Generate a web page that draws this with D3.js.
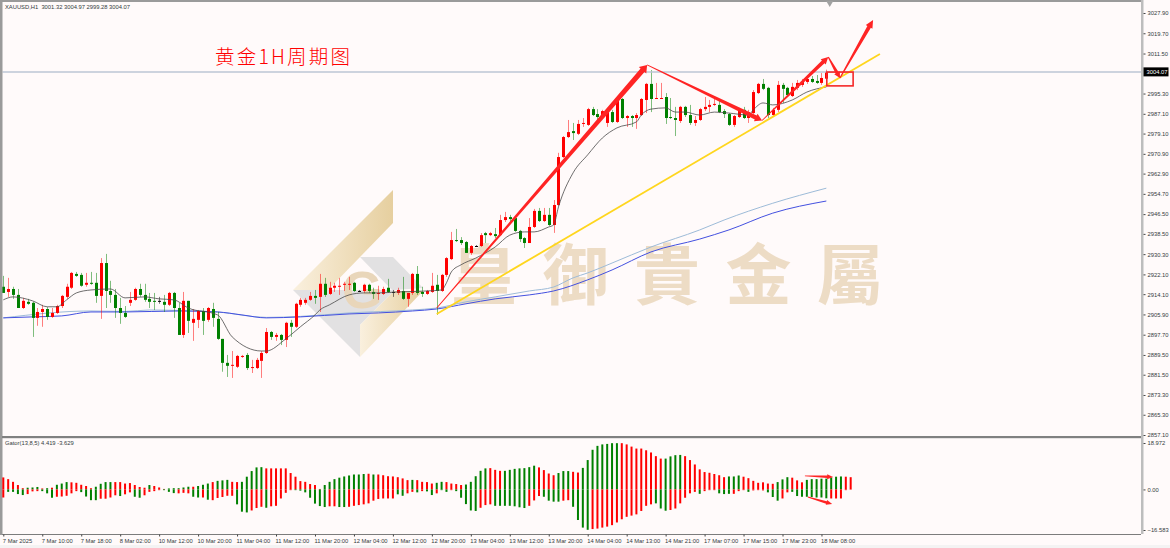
<!DOCTYPE html>
<html>
<head>
<meta charset="utf-8">
<script src="https://cdn.jsdelivr.net/npm/d3@7"></script>
<style>
  html, body { margin: 0; padding: 0; background: #fffafa; }
  svg { display: block; }
  text { font-family: "Liberation Sans", Arial, sans-serif; }
</style>
</head>
<body>
<svg id="chart" width="1170" height="548"></svg>
<script>
// XAUUSD H1 candles
const opens = [2917.1,2915.0,2916.2,2913.8,2908.5,2911.0,2910.6,2904.5,2906.9,2908.1,2904.9,2906.5,2909.3,2913.0,2916.7,2922.3,2921.9,2917.9,2918.7,2918.7,2913.4,2926.7,2915.4,2913.8,2908.5,2906.5,2910.6,2911.8,2916.2,2913.8,2912.2,2911.4,2911.4,2911.0,2909.8,2914.6,2908.5,2897.6,2911.4,2902.5,2903.7,2907.3,2903.7,2908.1,2904.1,2896.0,2886.3,2885.1,2884.7,2888.7,2889.5,2884.2,2884.2,2887.1,2890.3,2898.8,2896.8,2897.6,2895.6,2902.5,2900.9,2909.8,2910.6,2911.8,2913.4,2913.0,2918.3,2914.2,2916.7,2917.1,2917.9,2917.9,2918.7,2915.4,2915.4,2917.9,2915.0,2914.2,2914.2,2916.7,2915.0,2914.6,2915.4,2912.2,2914.6,2922.3,2915.0,2914.2,2915.0,2917.9,2915.4,2921.9,2928.3,2936.0,2936.0,2935.2,2930.8,2933.6,2933.6,2938.8,2938.0,2938.4,2938.0,2944.1,2945.3,2944.9,2939.7,2936.8,2934.8,2941.3,2947.8,2943.7,2946.2,2942.1,2950.2,2969.6,2977.7,2980.1,2979.0,2983.0,2982.6,2989.0,2987.0,2986.6,2983.4,2987.8,2983.8,2993.1,2985.4,2986.2,2985.4,2986.6,2992.7,2999.2,2993.3,2993.3,2993.9,2985.8,2985.4,2984.2,2989.9,2986.6,2983.4,2984.6,2989.0,2989.9,2990.7,2990.7,2988.2,2987.0,2982.6,2985.8,2988.7,2985.4,2987.4,2995.5,2999.2,2997.6,2986.6,2988.7,2998.8,2997.6,2994.3,2997.6,2998.8,3000.0,3001.2,3000.4,2999.6,3001.32];
const closes = [2914.6,2916.2,2913.8,2908.5,2911.4,2910.2,2904.5,2906.9,2908.1,2904.9,2906.5,2909.3,2913.4,2917.1,2922.7,2921.5,2917.5,2918.7,2918.3,2913.4,2926.7,2915.4,2913.8,2908.5,2906.5,2904.9,2911.8,2916.2,2913.8,2911.8,2911.0,2911.0,2911.4,2909.8,2914.6,2908.5,2897.6,2911.4,2903.3,2904.1,2907.3,2903.3,2908.5,2904.5,2896.0,2886.3,2885.1,2885.5,2889.1,2889.1,2884.2,2884.6,2887.5,2890.3,2898.8,2896.8,2897.6,2895.6,2902.5,2900.9,2910.2,2911.8,2911.8,2913.4,2912.6,2918.3,2913.8,2916.7,2917.5,2917.5,2918.3,2918.3,2915.4,2915.4,2917.9,2915.4,2914.2,2914.6,2916.2,2915.0,2915.0,2915.8,2912.2,2914.6,2922.3,2914.6,2914.2,2915.4,2917.5,2915.4,2921.9,2928.7,2936.0,2935.6,2934.8,2930.8,2933.6,2933.6,2938.0,2938.0,2938.8,2937.6,2944.1,2945.3,2944.5,2939.7,2936.4,2934.8,2941.3,2947.8,2943.7,2946.2,2942.1,2950.2,2969.6,2977.7,2979.7,2979.3,2983.0,2983.4,2989.0,2986.6,2985.8,2988.2,2987.8,2983.8,2993.1,2985.4,2986.2,2985.4,2986.6,2993.1,2999.2,2993.1,2993.5,2993.5,2985.4,2985.4,2984.6,2989.9,2986.6,2983.4,2984.6,2989.0,2989.9,2990.7,2991.1,2987.8,2987.0,2982.6,2986.2,2988.7,2985.4,2987.8,2995.9,2999.2,2997.2,2986.6,2988.7,2998.8,2997.2,2994.7,2998.0,2999.6,3000.0,3001.2,3000.0,2999.6,3001.6,3004.07];
const highs = [2921.5,2920.7,2917.1,2916.2,2912.6,2912.2,2911.0,2908.5,2909.8,2908.9,2908.5,2909.8,2913.8,2918.3,2923.1,2923.1,2922.7,2922.7,2923.1,2922.7,2928.7,2930.4,2919.5,2916.2,2912.6,2909.3,2915.0,2916.7,2918.3,2918.3,2914.6,2914.6,2913.0,2913.8,2915.0,2915.0,2910.6,2915.0,2911.4,2908.1,2907.7,2908.5,2908.9,2910.6,2906.9,2896.0,2889.5,2891.1,2889.5,2889.5,2890.3,2887.5,2888.3,2891.1,2900.4,2899.2,2898.4,2898.0,2902.9,2903.7,2910.6,2912.6,2912.6,2915.0,2915.8,2922.3,2920.7,2919.1,2918.7,2920.7,2919.1,2921.1,2919.1,2915.8,2918.3,2918.3,2916.7,2917.5,2917.1,2920.3,2915.8,2916.7,2921.1,2914.6,2922.7,2925.5,2917.1,2915.8,2922.7,2921.9,2922.3,2929.1,2939.3,2940.5,2937.2,2935.6,2934.0,2934.0,2938.8,2939.3,2939.3,2940.9,2946.2,2947.4,2946.2,2944.9,2940.1,2937.2,2944.9,2948.6,2949.0,2949.0,2949.0,2952.2,2971.3,2978.1,2984.6,2983.4,2984.6,2985.4,2989.5,2989.9,2989.0,2988.7,2989.5,2988.7,2993.5,2993.5,2986.6,2986.6,2987.4,2993.5,2999.6,3004.8,2999.6,2999.6,2995.5,2993.5,2989.9,2990.3,2990.3,2990.7,2986.2,2989.5,2993.9,2992.7,2993.5,2993.1,2989.0,2987.4,2986.6,2989.5,2989.9,2988.7,2996.7,2999.6,3001.2,2998.0,2989.5,3000.4,2999.6,2998.0,2999.6,3000.8,3001.2,3002.0,3002.4,3002.8,3003.6,3004.97];
const lows = [2914.6,2913.0,2912.2,2908.5,2908.1,2909.8,2896.8,2901.3,2900.9,2903.7,2904.5,2906.1,2908.5,2912.2,2916.2,2921.1,2917.1,2917.1,2917.9,2910.6,2904.1,2908.5,2910.6,2904.5,2902.1,2904.5,2909.3,2911.4,2913.0,2911.0,2908.5,2907.7,2910.2,2906.9,2909.3,2904.5,2897.6,2896.4,2898.4,2895.2,2900.4,2897.6,2902.9,2900.9,2895.6,2882.7,2880.6,2880.2,2884.2,2888.3,2883.4,2882.2,2883.8,2880.2,2889.9,2895.6,2895.2,2893.5,2892.7,2896.8,2900.4,2909.0,2909.8,2911.4,2910.2,2906.9,2913.0,2913.8,2915.0,2913.8,2915.4,2915.8,2915.0,2915.0,2914.6,2914.6,2912.2,2911.8,2913.8,2914.6,2913.0,2913.8,2911.8,2909.0,2913.8,2913.8,2913.0,2913.8,2914.6,2905.7,2915.0,2921.1,2927.9,2935.2,2934.0,2930.8,2930.0,2933.2,2933.2,2934.8,2937.6,2936.8,2937.6,2943.3,2943.3,2939.3,2935.2,2932.8,2934.8,2940.9,2943.3,2943.3,2941.7,2938.9,2949.8,2969.2,2977.3,2976.5,2978.5,2981.8,2982.2,2986.2,2984.6,2985.4,2981.8,2983.4,2983.4,2985.0,2981.8,2981.8,2981.0,2986.2,2987.4,2987.8,2993.1,2993.1,2983.0,2985.0,2978.1,2983.4,2985.8,2982.6,2982.2,2984.2,2988.2,2987.8,2990.3,2987.4,2985.4,2982.2,2981.8,2985.4,2985.0,2983.4,2987.0,2995.1,2996.7,2985.4,2985.8,2987.8,2991.5,2993.9,2993.9,2996.7,2998.0,2999.2,2999.6,2999.2,2998.8,2999.28];

// Moving averages: sampled as bar index / price
const fastBars = [0,2,6,9,11,13,15,18,22,25,29,32,35,38,44,47,53,54,58,61,64,65,67,71,74,77,81,87,90,91,92,94,97,101,104,107,109,112,113,114,117,120,123,126,130,131,133,136,138,140,143,146,149,153,154,156,158,162,165,169];
const fastMA = [2911.8,2913.0,2911.4,2909.0,2909.0,2911.8,2914.6,2915.8,2916.2,2912.6,2913.0,2912.2,2911.8,2908.5,2905.7,2896.8,2891.1,2891.1,2896.0,2900.9,2905.7,2907.7,2909.8,2913.8,2914.6,2914.6,2915.0,2915.4,2915.8,2918.7,2923.1,2926.0,2928.7,2933.2,2938.0,2939.3,2939.3,2941.3,2942.1,2949.4,2963.2,2970.5,2977.3,2981.4,2983.8,2986.6,2989.0,2989.5,2987.8,2987.8,2986.6,2987.8,2987.4,2986.6,2988.7,2991.5,2990.7,2992.7,2995.9,2998.0];
const blueBars = [0,6,12,18,25,36,44,49,54,61,71,77,84,89,95,101,108,113,120,125,133,143,149,158,169];
const blueMA = [2904.5,2904.9,2905.3,2906.9,2906.9,2907.3,2906.9,2905.7,2904.5,2904.9,2906.1,2906.5,2907.3,2908.1,2910.2,2912.2,2913.8,2915.4,2919.9,2923.9,2931.2,2936.4,2940.1,2946.9,2951.8];
const paleBars = [0,18,25,30,36,44,54,61,71,84,89,95,101,108,113,117,120,125,133,143,148,158,169];
const paleMA = [2904.5,2907.3,2907.1,2907.7,2907.5,2906.9,2904.7,2905.1,2906.5,2907.7,2908.5,2911.0,2913.0,2915.4,2917.0,2920.7,2922.7,2926.7,2933.2,2940.1,2944.1,2950.9,2957.0];

// Gator oscillator, shifted five bars ahead of price
const gatorUpper = [4.9,4.2,3.1,1.8,.5,.7,.8,1.0,.4,.5,.7,1.9,2.4,3.0,2.9,2.7,1.9,1.4,.5,1.1,2.3,3.0,3.0,3.0,3.0,2.4,2.6,1.8,1.0,.7,1.8,1.4,.8,.2,.4,.5,.5,.8,1.1,1.1,1.4,1.9,2.4,3.0,3.5,3.7,3.9,3.1,3.0,3.1,5.2,7.5,9.0,9.1,8.6,8.6,8.6,8.6,8.6,6.7,5.2,3.4,3.1,2.2,1.8,.2,1.8,3.1,4.2,4.8,5.3,5.7,6.1,6.1,6.3,6.4,6.1,6.1,5.8,5.4,5.3,5.0,4.5,3.8,3.9,3.8,3.1,3.0,2.4,2.7,3.1,3.0,2.4,2.2,1.8,2.0,3.1,5.4,7.6,8.6,8.7,8.0,7.6,7.6,8.0,8.4,8.6,8.7,9.1,9.7,9.0,7.9,6.5,5.8,6.7,7.5,7.5,7.2,6.9,8.8,12.0,16.2,17.8,18.4,18.6,18.9,18.9,18.9,18.4,17.5,16.7,16.7,16.0,15.1,13.6,12.6,12.6,13.5,14.0,14.1,13.6,12.0,10.2,8.2,7.1,6.8,6.3,5.8,5.0,5.3,5.3,5.7,5.2,4.6,3.5,2.7,2.9,2.4,2.3,3.0,4.1,5.0,4.8,3.7,2.9,3.9,4.2,4.2,4.4,4.419,4.9,5.2,5.3,5.2,5.0];
const gatorLower = [-3.3,-1.0,-1.0,-1.9,-2.3,-1.9,-.8,-.7,-.7,-1.6,-3.4,-3.0,-2.9,-2.6,-1.6,-.7,-1.1,-2.9,-4.4,-4.4,-3.8,-3.8,-3.3,-2.4,-2.7,-2.0,-1.2,-3.0,-3.4,-2.4,-1.0,-.7,-.3,-.3,-1.0,-1.5,-1.6,-1.4,-1.6,-3.0,-3.3,-3.3,-4.2,-4.4,-3.5,-3.1,-2.6,-2.6,-6.1,-9.1,-9.4,-8.6,-7.6,-7.1,-7.5,-6.9,-6.7,-3.7,-1.4,-.3,-.3,-.5,-1.2,-3.4,-5.8,-6.8,-7.2,-6.9,-6.9,-7.2,-7.2,-7.1,-6.7,-6.4,-6.1,-5.7,-4.6,-3.9,-3.7,-3.7,-3.7,-2.0,-2.6,-1.6,-1.0,-1.2,-.7,-.8,-2.3,-1.6,-.3,-1.0,-.3,-.7,-3.4,-6.0,-8.6,-8.8,-7.5,-6.4,-6.1,-6.7,-6.7,-6.7,-6.7,-6.9,-7.3,-7.6,-6.7,-4.5,-2.7,-3.0,-4.6,-5.0,-5.0,-4.6,-4.4,-7.1,-12.5,-15.6,-16.5,-16.2,-16.0,-15.6,-15.2,-14.6,-13.5,-12.2,-11.2,-10.7,-10.2,-8.8,-6.7,-6.1,-5.7,-7.8,-8.7,-8.4,-7.8,-5.7,-3.4,-1.6,-1.0,-1.8,-.7,-.3,-.3,-1.6,-1.9,-1.8,-1.8,-.7,-.3,-1.0,-.4,-.3,-.4,-1.2,-3.1,-4.6,-3.7,-1.2,-1.0,-2.7,-3.0,-3.0,-3.1,-3.3,-3.3,-3.629,-3.7,-3.7,-3.7,-.3,-.1];
// One letter per bar, grouped in tens: R falling, G rising
const gatorUpperShades = [
  "RRRRRGGGRG","RGGGRRRRRG","GGGRRRRRRR","GRRRGGGGGR","GGGRGGGRRG","GGGGRRRRRR",
  "RRRRRRGGGG","GGGGGRGRRR","RRRRGRRRRG","GRRRRGGGGG","RRRGGGGGGG","RRRRGGGRRG",
  "GGGGGGGRRR","RRRRRRGGGG","RRRRRRRRRG","GGRRRRRRRG","GGRRRGGGGG","GGGRR"
].join("");
const gatorLowerShades = [
  "RGGGGRRRGG","GRRRRRGGGG","RRRRGRRGGR","RRRGGGRRRG","GRGRRRRRGG","GRRRGRRRRR",
  "GGGGGGGRRG","GRRRRRRRRR","RGGRRGRGGR","GGRGGGGGRR","RGGGGGGGRR","RGGGGRRGGG",
  "GRRRRRRRRR","RRRRGGGRRR","RRRGRRRGGG","RRRGRRRGGG","RRGGGGGGGG","RRRRR"
].join("");

const priceTicks = [3027.9,3019.7,3011.5,2995.3,2987.1,2979.1,2970.9,2962.9,2954.7,2946.5,2938.5,2930.3,2922.1,2914.1,2905.9,2897.7,2889.5,2881.5,2873.3,2865.3,2857.1];
const gatorTicks = [18.972,0,-16.583];
const timeBars = [0,8,16,24,32,40,48,56,64,72,80,88,96,104,112,120,128,136,144,152,160,168];
const timeLabels = ["7 Mar 2025","7 Mar 10:00","7 Mar 18:00","8 Mar 02:00","10 Mar 12:00","10 Mar 20:00","11 Mar 04:00","11 Mar 12:00","11 Mar 20:00","12 Mar 04:00","12 Mar 12:00","12 Mar 20:00","13 Mar 04:00","13 Mar 12:00","13 Mar 20:00","14 Mar 04:00","14 Mar 13:00","14 Mar 21:00","17 Mar 07:00","17 Mar 15:00","17 Mar 23:00","18 Mar 08:00"];
const lastPrice = 3004.07;

// Hand-drawn annotations, in bar / price terms
const waveLegs = [
  {from:[89,2908.5], to:[132.2,3006.9], w0:.9, w1:5.2, head:7},
  {from:[132.2,3006.9], to:[155.8,2984.4], w0:.9, w1:4.4, head:7},
  {from:[155.8,2984.4], to:[169.4,3010.1], w0:.9, w1:3.8, head:7},
  {from:[169.4,3010.1], to:[171.8,3001.6], w0:1.2, w1:3.4, head:6},
  {from:[171.8,3001.6], to:[178.6,3025.1], w0:1.2, w1:4, head:8}
];
const trendFrom = [89,2906.1];
const trendTo = [180,3011.3];
const boxFrom = [169.1,3004.0];
const boxTo = [174.5,2998.4];
const gatorLegs = [
  {from:[164.6,5.5], to:[170.4,5.1], w0:.8, w1:2.6, head:6},
  {from:[165.2,-3.1], to:[170.2,-6.0], w0:.8, w1:2.6, head:6}
];

const PLOT_RIGHT = 1141.5, PLOT_LEFT = 2.5;
const svg = d3.select("#chart");
const x = d3.scaleLinear().domain([0, 168]).range([3.3, 821.46]);
const y = d3.scaleLinear().domain([3027.9, 2857.1]).range([13, 435]);
const yg = d3.scaleLinear().domain([18.972, -16.583]).range([443, 530]);

const RED = "#ff0000", GREEN = "#008000", INK = "#333a40", MARKER = "#ff2424";

svg.append("rect").attr("width", 1170).attr("height", 548).attr("fill", "#fffafa");
svg.append("rect").attr("y", 545).attr("width", 1170).attr("height", 3).attr("fill", "#f4f3f3");

// Company mark sitting behind the price data
const defs = svg.append("defs");
const grad = defs.append("linearGradient").attr("id", "goldBand").attr("x1", 0).attr("x2", 1).attr("y1", 0).attr("y2", 0);
grad.append("stop").attr("offset", "0%").attr("stop-color", "#faf0de");
grad.append("stop").attr("offset", "100%").attr("stop-color", "#e6cf9f");
const mark = svg.append("g");
mark.append("polygon").attr("points", "293,290 360,357 360,325 395,290 423,288 393,257 360,257 360,257 392,290 318,290").attr("fill", "#e2e1e2");
mark.append("polygon").attr("points", "293,290 393,190 393,223 328,290").attr("fill", "url(#goldBand)");
mark.append("polygon").attr("points", "360,325 394,291 423,291 360,357").attr("fill", "url(#goldBand)");
mark.append("text").attr("x", 342).attr("y", 308).attr("font-size", 52).attr("font-weight", 700)
  .attr("fill", "#e9d6ba").style("font-family", "'Liberation Sans'").text("G");
mark.append("text").attr("x", 451).attr("y", 299).attr("font-size", 66).attr("font-weight", 700)
  .attr("letter-spacing", 25.5).attr("fill", "#eddcc5").style("font-family", "'Noto Sans CJK TC'").text("皇御貴金屬");

// Moving averages
const line = (bars) => d3.line().x((d, i) => x(bars[i])).y(d => y(d)).curve(d3.curveMonotoneX);
svg.append("path").attr("d", line(paleBars)(paleMA)).attr("fill", "none").attr("stroke", "#9dbbd8").attr("stroke-width", 1);
svg.append("path").attr("d", line(blueBars)(blueMA)).attr("fill", "none").attr("stroke", "#4350e0").attr("stroke-width", 1);

// Candles
const candles = svg.append("g").selectAll("g").data(opens).join("g");
const shade = (i) => closes[i] > opens[i] ? RED : closes[i] < opens[i] ? GREEN : "#000";
candles.append("line")
  .attr("x1", (d, i) => Math.round(x(i)) + .5).attr("x2", (d, i) => Math.round(x(i)) + .5)
  .attr("y1", (d, i) => y(highs[i])).attr("y2", (d, i) => y(lows[i]))
  .attr("stroke", (d, i) => shade(i)).attr("stroke-opacity", .5).attr("stroke-width", 1);
candles.append("rect")
  .attr("x", (d, i) => Math.round(x(i)) - 1).attr("width", 3)
  .attr("y", (d, i) => y(Math.max(opens[i], closes[i])))
  .attr("height", (d, i) => Math.max(1, Math.abs(y(opens[i]) - y(closes[i]))))
  .attr("fill", (d, i) => shade(i));

svg.append("path").attr("d", line(fastBars)(fastMA)).attr("fill", "none").attr("stroke", "#4a4a4a").attr("stroke-width", .8);

// Last price line
svg.append("line").attr("x1", PLOT_LEFT).attr("x2", PLOT_RIGHT).attr("y1", y(lastPrice)).attr("y2", y(lastPrice))
  .attr("stroke", "#bcc6d4").attr("stroke-width", 1.5);

// Trend line, box and tapered arrows
const toXY = (p) => [x(p[0]), y(p[1])];
svg.append("line").attr("x1", toXY(trendFrom)[0]).attr("y1", toXY(trendFrom)[1])
  .attr("x2", toXY(trendTo)[0]).attr("y2", toXY(trendTo)[1]).attr("stroke", "#ffd61e").attr("stroke-width", 1.8);
svg.append("rect").attr("x", x(boxFrom[0])).attr("y", y(boxFrom[1]))
  .attr("width", x(boxTo[0]) - x(boxFrom[0])).attr("height", y(boxTo[1]) - y(boxFrom[1]))
  .attr("fill", "none").attr("stroke", "#f52828").attr("stroke-width", 1.6);

function arrowPath(a, b, leg) {
  const dx = b[0] - a[0], dy = b[1] - a[1], len = Math.hypot(dx, dy);
  const ux = dx / len, uy = dy / len, nx = -uy, ny = ux;
  const neck = [b[0] - ux * leg.head, b[1] - uy * leg.head];
  const pt = (p, k) => [p[0] + nx * k, p[1] + ny * k];
  const hw = leg.w1 * 0.95;
  return d3.line()([pt(a, leg.w0 / 2), pt(neck, leg.w1 / 2), pt(neck, hw), b, pt(neck, -hw), pt(neck, -leg.w1 / 2), pt(a, -leg.w0 / 2)]) + "Z";
}
svg.append("g").selectAll("path").data(waveLegs).join("path")
  .attr("d", d => arrowPath(toXY(d.from), toXY(d.to), d)).attr("fill", MARKER);

// Pane frames
svg.append("rect").attr("width", 1141).attr("height", 2).attr("fill", "#9a9a9a");
svg.append("rect").attr("width", 2.5).attr("height", 535).attr("fill", "#9a9a9a");
svg.append("rect").attr("x", 1141).attr("width", 2.5).attr("height", 534).attr("fill", "#bdbdbd");
svg.append("rect").attr("x", 2).attr("y", 436).attr("width", 1139).attr("height", 2.2).attr("fill", "#808080");
svg.append("rect").attr("x", 2).attr("y", 534).attr("width", 1139).attr("height", 1).attr("fill", "#7c7c7c");
svg.append("path").attr("d", d3.symbol(d3.symbolTriangle, 22)()).attr("transform", `translate(${x(169.7)},3) rotate(180)`).attr("fill", "#a2a2a2");

// Gator histogram
const gator = svg.append("g");
const barColor = (code) => code === "R" ? RED : GREEN;
gator.selectAll("rect.up").data(gatorUpper).join("rect").attr("class", "up")
  .attr("x", (d, i) => x(i) - 1).attr("width", 2)
  .attr("y", d => yg(d)).attr("height", d => yg(0) - yg(d))
  .attr("fill", (d, i) => barColor(gatorUpperShades[i]));
gator.selectAll("rect.down").data(gatorLower).join("rect").attr("class", "down")
  .attr("x", (d, i) => x(i) - 1).attr("width", 2)
  .attr("y", yg(0)).attr("height", d => yg(d) - yg(0))
  .attr("fill", (d, i) => barColor(gatorLowerShades[i]));
svg.append("g").selectAll("path").data(gatorLegs).join("path")
  .attr("d", d => arrowPath([x(d.from[0]), yg(d.from[1])], [x(d.to[0]), yg(d.to[1])], d)).attr("fill", MARKER);

// Axes
const styleAxis = (g) => {
  g.select(".domain").remove();
  g.selectAll("line").attr("stroke", "#444");
  g.selectAll("text").attr("fill", INK).attr("font-size", 5.8).style("font-family", "'Liberation Sans'");
};
svg.append("g").attr("transform", "translate(1143.5,0)")
  .call(d3.axisRight(y).tickValues(priceTicks).tickFormat(d3.format(".2f")).tickSize(2).tickPadding(2)).call(styleAxis);
svg.append("g").attr("transform", "translate(1143.5,0)")
  .call(d3.axisRight(yg).tickValues(gatorTicks).tickFormat((d) => d === 0 ? "0.00" : d3.format(".3f")(d)).tickSize(2).tickPadding(2)).call(styleAxis);
svg.append("g").attr("transform", "translate(0,534.5)")
  .call(d3.axisBottom(x).tickValues(timeBars).tickFormat((d, i) => timeLabels[i]).tickSize(2).tickPadding(2)).call(styleAxis)
  .selectAll("text").attr("text-anchor", "start").attr("dx", -1);

// Last price tag
const tag = svg.append("g").attr("transform", `translate(1143.5,${y(lastPrice)})`);
tag.append("rect").attr("x", 0).attr("y", -4.5).attr("width", 25).attr("height", 9).attr("fill", "#000");
tag.append("text").attr("x", 3).attr("y", 2).attr("font-size", 5.8).attr("fill", "#fff").text(d3.format(".2f")(lastPrice));

// Pane captions
svg.append("text").attr("x", 5).attr("y", 9).attr("font-size", 5.8).attr("fill", INK)
  .attr("xml:space", "preserve").text("XAUUSD,H1  3001.32 3004.97 2999.28 3004.07");
svg.append("text").attr("x", 5).attr("y", 445).attr("font-size", 5.8).attr("fill", INK)
  .text("Gator(13,8,5) 4.419 -3.629");
svg.append("text").attr("x", 215).attr("y", 64).attr("font-size", 19.5).attr("letter-spacing", 2.2).attr("fill", "#ff0000")
  .style("font-family", "'Noto Sans CJK SC'").style("font-weight", 300).text("黄金1H周期图");
</script>
</body>
</html>
